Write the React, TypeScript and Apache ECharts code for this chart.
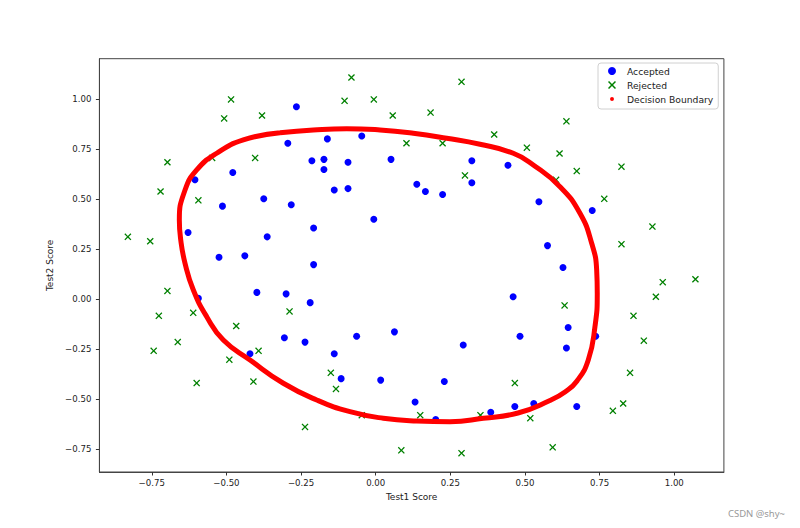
import React, { useEffect, useRef } from "react";
import * as echarts from "echarts";

// Accepted (y = 1): [Test1, Test2]
const acceptedTest1 = [
  0.051267, -0.092742, -0.21371, -0.375, -0.51325, -0.52477, -0.39804, -0.30588, 0.016705, 0.13191,
  0.38537, 0.52938, 0.63882, 0.73675, 0.54666, 0.322, 0.16647, -0.046659, -0.17339, -0.47869,
  -0.60541, -0.62846, -0.59389, -0.42108, -0.11578, 0.20104, 0.46601, 0.67339, -0.13882, -0.29435,
  -0.26555, -0.16187, -0.17339, -0.28283, -0.36348, -0.30012, -0.23675, -0.06394, 0.062788, 0.22984,
  0.2932, 0.48329, 0.64459, 0.46025, 0.6273, 0.57546, 0.72523, 0.22408, 0.44297, 0.322,
  0.13767, -0.0063364, -0.092742, -0.20795, -0.20795, -0.43836, -0.21947, -0.13882,
];
const acceptedTest2 = [
  0.69956, 0.68494, 0.69225, 0.50219, 0.46564, 0.2098, 0.034357, -0.19225, -0.40424, -0.51389,
  -0.56506, -0.5212, -0.24342, -0.18494, 0.48757, 0.5826, 0.53874, 0.81652, 0.69956, 0.63377,
  0.59722, 0.33406, 0.005117, -0.27266, -0.39693, -0.60161, -0.53582, -0.53582, 0.54605, 0.77997,
  0.96272, 0.8019, 0.64839, 0.47295, 0.31213, 0.027047, -0.21418, -0.18494, -0.16301, -0.41155,
  -0.2288, -0.18494, -0.14108, 0.012427, 0.15863, 0.26827, 0.44371, 0.52412, 0.67032, 0.69225,
  0.57529, 0.39985, 0.55336, 0.35599, 0.17325, 0.21711, -0.016813, -0.27266,
];

// Rejected (y = 0)
const rejectedTest1 = [
  0.18376, 0.22408, 0.29896, 0.50634, 0.61578, 0.60426, 0.76555, 0.92684, 0.82316, 0.96141,
  0.93836, 0.86348, 0.89804, 0.85196, 0.82892, 0.79435, 0.59274, 0.51786, 0.46601, 0.35081,
  0.28744, 0.085829, 0.14919, -0.13306, -0.40956, -0.39228, -0.74366, -0.69758, -0.75518, -0.69758,
  -0.4038, -0.38076, -0.50749, -0.54781, 0.10311, 0.057028, -0.10426, -0.081221, 0.28744, 0.39689,
  0.63882, 0.82316, 0.67339, 1.0709, -0.046659, -0.23675, -0.15035, -0.49021, -0.46717, -0.28859,
  -0.61118, -0.66302, -0.59965, -0.72638, -0.83007, -0.72062, -0.59389, -0.48445, -0.0063364, 0.63265,
];
const rejectedTest2 = [
  0.93348, 0.77997, 0.61915, 0.75804, 0.7288, 0.59722, 0.50219, 0.3633, 0.27558, 0.085526,
  0.012427, -0.082602, -0.20687, -0.36769, -0.5212, -0.55775, -0.7405, -0.5943, -0.41886, -0.57968,
  -0.76974, -0.75512, -0.57968, -0.4481, -0.41155, -0.25804, -0.25804, 0.041667, 0.2902, 0.68494,
  0.70687, 0.91886, 0.90424, 0.70687, 0.77997, 0.91886, 0.99196, 1.1089, 1.087, 0.82383,
  0.88962, 0.66301, 0.64108, 0.10015, -0.57968, -0.63816, -0.36769, -0.3019, -0.13377, -0.060673,
  -0.067982, -0.21418, -0.41886, -0.082602, 0.31213, 0.53874, 0.49488, 0.99927, 0.99927, -0.030612,
];

// Decision boundary (clockwise from top-left)
const boundaryTest1 = [
  -0.3205, -0.209, -0.0971, 0.0144, 0.1259, 0.2378, 0.3493, 0.4608, 0.5278, 0.6172,
  0.6842, 0.7234, 0.7401, 0.7421, 0.7344, 0.712, 0.6742, 0.6340, 0.5835, 0.4766, 0.3603,
  0.2488, 0.1373, 0.0255, -0.0861, -0.1976, -0.3094, -0.421, -0.5104, -0.566, -0.6108,
  -0.6386, -0.653, -0.6577, -0.6386, -0.5995, -0.5325, -0.4434, -0.3205,
];
const boundaryTest2 = [
  0.833, 0.8465, 0.853, 0.8465, 0.83, 0.805, 0.775, 0.73, 0.6715, 0.563,
  0.43, 0.28, 0.1465, 0.03, -0.137, -0.3035, -0.4085, -0.4635, -0.506, -0.5685, -0.595,
  -0.612, -0.6085, -0.595, -0.562, -0.5035, -0.42, -0.3035, -0.2035, -0.087, 0.0465,
  0.18, 0.2965, 0.3965, 0.5465, 0.6465, 0.73, 0.7965, 0.833,
];

const tickValues = [-0.75, -0.5, -0.25, 0, 0.25, 0.5, 0.75, 1.0];
const seriesNames = ["Accepted", "Rejected", "Decision Boundary"];

const X_PATH =
  "path://M0,1.3L1.3,0L5,3.7L8.7,0L10,1.3L6.3,5L10,8.7L8.7,10L5,6.3L1.3,10L0,8.7L3.7,5Z";
const DOT_PATH =
  "path://M0,0M10,10M5,2.5L6.77,3.23L7.5,5L6.77,6.77L5,7.5L3.23,6.77L2.5,5L3.23,3.23Z";

const FONT = "DejaVu Sans";
const fmt = (v: number) => v.toFixed(2).replace("-", "\u2212");

export default function App() {
  const ref = useRef<HTMLDivElement>(null);

  useEffect(() => {
    if (!ref.current) return;
    const chart = echarts.init(ref.current, null, { renderer: "svg" });
    const accepted = acceptedTest1.map((x, i) => [x, acceptedTest2[i]]);
    const rejected = rejectedTest1.map((x, i) => [x, rejectedTest2[i]]);
    const boundary = boundaryTest1.map((x, i) => [x, boundaryTest2[i]]);

    const axisCommon = {
      type: "value" as const,
      splitLine: { show: false },
      axisLine: { show: true, onZero: false, lineStyle: { color: "#444", width: 1 } },
      axisTick: {
        show: true,
        customValues: tickValues,
        length: 3.5,
        lineStyle: { color: "#333", width: 1 },
      },
      axisLabel: {
        customValues: tickValues,
        formatter: (v: number) => fmt(v),
        color: "#222",
        fontFamily: FONT,
        fontSize: 8.6,
      },
      nameLocation: "middle" as const,
      nameTextStyle: { fontFamily: FONT, fontSize: 9, color: "#222" },
    };

    chart.setOption({
      animation: false,
      backgroundColor: "#fff",
      textStyle: { fontFamily: FONT },
      grid: {
        left: 99.4,
        right: 76.1,
        top: 58.7,
        bottom: 56,
        show: true,
        borderColor: "#444",
        borderWidth: 1,
        backgroundColor: "transparent",
      },
      xAxis: {
        ...axisCommon,
        min: -0.92543,
        max: 1.16626,
        name: "Test1 Score",
        nameGap: 20,
        axisLabel: { ...axisCommon.axisLabel, margin: 6 },
      },
      yAxis: {
        ...axisCommon,
        min: -0.86367,
        max: 1.20283,
        name: "Test2 Score",
        nameGap: 34.5,
        axisLabel: { ...axisCommon.axisLabel, margin: 8 },
      },
      legend: {
        orient: "vertical",
        left: 598,
        top: 63,
        padding: [3, 5, 5, 10],
        itemWidth: 20,
        itemHeight: 8,
        itemGap: 4,
        borderColor: "#d0d0d0",
        borderWidth: 1,
        borderRadius: 3,
        backgroundColor: "rgba(255,255,255,0.8)",
        textStyle: { fontFamily: FONT, fontSize: 9.2, color: "#222", lineHeight: 10 },
        data: [
          { name: seriesNames[0], icon: "circle", itemStyle: { color: "#0000ff" } },
          { name: seriesNames[1], icon: X_PATH, itemStyle: { color: "#008000" } },
          { name: seriesNames[2], icon: DOT_PATH, itemStyle: { color: "#ff0000" } },
        ],
      },
      graphic: [
        {
          type: "text",
          right: 15,
          top: 508,
          style: {
            text: "CSDN @shy~",
            fill: "#999",
            font: "9.5px 'Noto Sans', sans-serif",
          },
        },
      ],
      series: [
        {
          name: seriesNames[0],
          type: "scatter",
          data: accepted,
          symbol: "circle",
          symbolSize: 7,
          itemStyle: { color: "#0000ff", opacity: 1 },
          z: 2,
        },
        {
          name: seriesNames[1],
          type: "scatter",
          data: rejected,
          symbol: X_PATH,
          symbolSize: 7,
          itemStyle: { color: "#008000", opacity: 1 },
          z: 3,
        },
        {
          name: seriesNames[2],
          type: "line",
          data: boundary,
          smooth: 0.5,
          showSymbol: false,
          symbol: "none",
          lineStyle: { color: "#ff0000", width: 5 },
          itemStyle: { color: "#ff0000" },
          z: 4,
        },
      ],
    });
    return () => chart.dispose();
  }, []);

  return (
    <div
      ref={ref}
      style={{ position: "fixed", left: 0, top: 0, width: 800, height: 528, background: "#fff" }}
    />
  );
}
